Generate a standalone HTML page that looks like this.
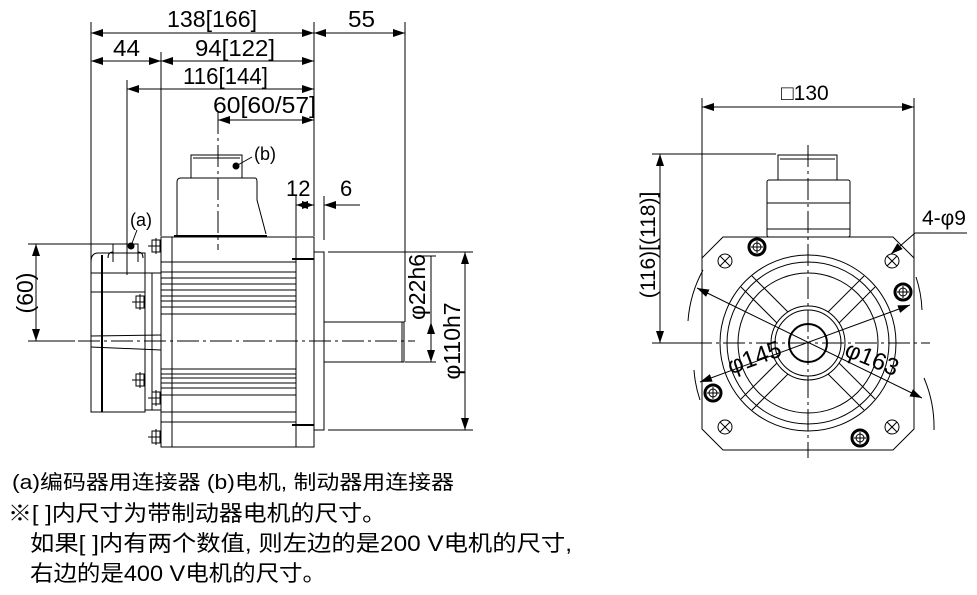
<!DOCTYPE html>
<html><head><meta charset="utf-8"><style>
html,body{margin:0;padding:0;background:#fff}
svg{display:block}
text{font-family:"Liberation Sans","Noto Sans CJK SC",sans-serif;fill:#000}
</style></head><body>
<svg width="977" height="595" viewBox="0 0 977 595" xmlns="http://www.w3.org/2000/svg">
<defs>
<marker id="a" viewBox="0 0 12 8" refX="12" refY="4" markerWidth="12" markerHeight="8" markerUnits="userSpaceOnUse" orient="auto-start-reverse"><path d="M0,0L12,4L0,8z" fill="#000"/></marker>
</defs>
<g stroke="#000" stroke-width="1" fill="none">
<line x1="91" y1="22" x2="91" y2="262"/>
<line x1="161" y1="52" x2="161" y2="236"/>
<line x1="127" y1="80" x2="127" y2="275"/>
<line x1="314" y1="22" x2="314" y2="236"/>
<line x1="405" y1="22" x2="405" y2="322"/>
<line x1="218" y1="112" x2="218" y2="250" stroke-dasharray="22,4,3,4"/>
<line x1="91" y1="33" x2="314" y2="33" marker-start="url(#a)" marker-end="url(#a)"/>
<line x1="314" y1="33" x2="405" y2="33" marker-start="url(#a)" marker-end="url(#a)"/>
<line x1="91" y1="61" x2="161" y2="61" marker-start="url(#a)" marker-end="url(#a)"/>
<line x1="161" y1="61" x2="314" y2="61" marker-start="url(#a)" marker-end="url(#a)"/>
<line x1="127" y1="89" x2="314" y2="89" marker-start="url(#a)" marker-end="url(#a)"/>
<line x1="218" y1="120" x2="314" y2="120" marker-start="url(#a)" marker-end="url(#a)"/>
<line x1="296" y1="196" x2="296" y2="236"/>
<line x1="324" y1="196" x2="324" y2="240"/>
<line x1="296" y1="205" x2="314" y2="205" marker-start="url(#a)" marker-end="url(#a)"/>
<line x1="360" y1="205" x2="324" y2="205" marker-end="url(#a)"/>
<line x1="28" y1="244" x2="125" y2="244"/>
<line x1="28" y1="341" x2="75" y2="341"/>
<line x1="36" y1="244" x2="36" y2="341" marker-start="url(#a)" marker-end="url(#a)"/>
<line x1="78" y1="341" x2="415" y2="341" stroke-dasharray="22,4,3,4"/>
<path d="M91,262 Q91,253 98,253 L145,253 L145,412 L91,412 Z"/>
<line x1="102" y1="255" x2="102" y2="412" stroke-width="2"/>
<line x1="91" y1="273" x2="145" y2="273"/>
<line x1="91" y1="292" x2="145" y2="292"/>
<line x1="91" y1="336" x2="161" y2="335"/>
<line x1="91" y1="347" x2="161" y2="350"/>
<rect x="145" y="273" width="16" height="137"/>
<line x1="152" y1="273" x2="152" y2="410"/>
<rect x="113" y="244" width="25" height="9"/>
<path d="M108,258 Q108,252 113,252 M138,252 Q143,252 143,258"/>
<line x1="113" y1="253" x2="113" y2="262"/><line x1="138" y1="253" x2="138" y2="262"/>
<rect x="161" y="237" width="153" height="210"/>
<line x1="172" y1="237" x2="172" y2="447"/>
<line x1="296" y1="237" x2="296" y2="447"/>
<g>
<line x1="161" y1="262" x2="296" y2="262"/><line x1="161" y1="272" x2="296" y2="272"/>
<line x1="161" y1="278" x2="296" y2="278"/><line x1="161" y1="284" x2="296" y2="284"/>
<line x1="161" y1="290" x2="296" y2="290"/><line x1="161" y1="296" x2="296" y2="296"/>
<line x1="161" y1="301" x2="296" y2="301"/><line x1="161" y1="307" x2="296" y2="307"/>
<line x1="161" y1="314" x2="296" y2="314"/>
<line x1="161" y1="369" x2="296" y2="369"/><line x1="161" y1="374" x2="296" y2="374"/>
<line x1="161" y1="378" x2="296" y2="378"/><line x1="161" y1="383" x2="296" y2="383"/>
<line x1="161" y1="388" x2="296" y2="388"/><line x1="161" y1="395" x2="296" y2="395"/>
<line x1="161" y1="412" x2="296" y2="412"/><line x1="161" y1="422" x2="296" y2="422"/>
</g>
<line x1="292" y1="259" x2="314" y2="259" stroke-width="2"/>
<line x1="292" y1="425" x2="314" y2="425" stroke-width="2"/>
<g>
<rect x="152" y="240" width="8" height="12"/><line x1="148" y1="246" x2="161" y2="246"/><line x1="156" y1="238" x2="156" y2="254"/>
<rect x="136" y="296" width="8" height="12"/><line x1="132" y1="302" x2="145" y2="302"/><line x1="140" y1="294" x2="140" y2="310"/>
<rect x="136" y="374" width="8" height="12"/><line x1="132" y1="380" x2="145" y2="380"/><line x1="140" y1="372" x2="140" y2="388"/>
<rect x="152" y="392" width="8" height="12"/><line x1="148" y1="398" x2="161" y2="398"/><line x1="156" y1="390" x2="156" y2="406"/>
<rect x="152" y="431" width="8" height="12"/><line x1="148" y1="437" x2="161" y2="437"/><line x1="156" y1="429" x2="156" y2="445"/>
</g>
<rect x="191" y="155" width="51" height="23"/>
<line x1="193" y1="158" x2="240" y2="158"/>
<path d="M177,236 L177,182 Q177,178 181,178 L255,178 Q257,178 257,182 L257,200 L266,234"/>
<line x1="174" y1="236" x2="267" y2="236" stroke-width="2"/>
<rect x="314" y="252" width="10" height="178"/>
<line x1="328" y1="252" x2="473" y2="252"/>
<line x1="328" y1="430" x2="473" y2="430"/>
<rect x="324" y="322" width="80" height="40"/>
<line x1="402" y1="322" x2="402" y2="362"/>
<line x1="405" y1="362" x2="436" y2="362"/>
<line x1="418" y1="256" x2="436" y2="256"/>
<line x1="431" y1="256" x2="431" y2="362"/>
<line x1="431" y1="338" x2="431" y2="322" marker-end="url(#a)"/>
<line x1="431" y1="346" x2="431" y2="362" marker-end="url(#a)"/>
<line x1="465" y1="252" x2="465" y2="430" marker-start="url(#a)" marker-end="url(#a)"/>
<line x1="131" y1="246" x2="137" y2="230"/>
<line x1="236" y1="166" x2="252" y2="157"/>
</g>
<circle cx="131" cy="246" r="3.5" fill="#000"/>
<circle cx="236" cy="166" r="3.5" fill="#000"/>
<text x="167" y="27" font-size="23" textLength="90" lengthAdjust="spacingAndGlyphs">138[166]</text>
<text x="348" y="27" font-size="23" textLength="27" lengthAdjust="spacingAndGlyphs">55</text>
<text x="113" y="56" font-size="23" textLength="27" lengthAdjust="spacingAndGlyphs">44</text>
<text x="195" y="56" font-size="23" textLength="80" lengthAdjust="spacingAndGlyphs">94[122]</text>
<text x="183" y="84" font-size="23" textLength="85" lengthAdjust="spacingAndGlyphs">116[144]</text>
<text x="213" y="113" font-size="23" textLength="103" lengthAdjust="spacingAndGlyphs">60[60/57]</text>
<text x="254" y="160" font-size="18">(b)</text>
<text x="130" y="226" font-size="18">(a)</text>
<text x="286" y="196" font-size="22">12</text>
<text x="340" y="196" font-size="22">6</text>
<text transform="translate(33,293) rotate(-90)" font-size="23" text-anchor="middle">(60)</text>
<text transform="translate(425,287) rotate(-90)" font-size="23" text-anchor="middle">φ22h6</text>
<text transform="translate(460,341) rotate(-90)" font-size="23" text-anchor="middle">φ110h7</text>

<g stroke="#000" stroke-width="1" fill="none">
<line x1="702" y1="98" x2="702" y2="260"/>
<line x1="914" y1="98" x2="914" y2="260"/>
<line x1="702" y1="107" x2="914" y2="107" marker-start="url(#a)" marker-end="url(#a)"/>
<line x1="652" y1="154" x2="776" y2="154"/>
<line x1="652" y1="343" x2="700" y2="343"/>
<line x1="660" y1="154" x2="660" y2="343" marker-start="url(#a)" marker-end="url(#a)"/>
<path d="M723,237 L893,237 L914,258 L914,429 L893,450 L723,450 L702,429 L702,258 Z"/>
<rect x="778" y="155" width="59" height="25"/>
<line x1="780" y1="159" x2="835" y2="159"/>
<rect x="767" y="180" width="83" height="57" rx="2"/>
<line x1="767" y1="203" x2="850" y2="203"/>
<line x1="767" y1="229" x2="850" y2="229"/>
<line x1="808" y1="145" x2="808" y2="458" stroke-dasharray="22,4,3,4"/>
<line x1="690" y1="343" x2="930" y2="343" stroke-dasharray="22,4,3,4"/>
<circle cx="808" cy="343" r="88"/>
<circle cx="808" cy="343" r="81"/>
<circle cx="808" cy="343" r="70"/>
<circle cx="808" cy="343" r="37"/>
<circle cx="808" cy="343" r="33"/>
<circle cx="808" cy="343" r="19" stroke-width="2"/>
<g transform="translate(808,343)">
<g id="sp"><line x1="20" y1="-31" x2="56" y2="-67"/><line x1="31" y1="-20" x2="67" y2="-56"/></g>
<use href="#sp" transform="rotate(90)"/><use href="#sp" transform="rotate(180)"/><use href="#sp" transform="rotate(270)"/>
</g>
<g id="hx"><circle cx="725" cy="261" r="7"/><line x1="720" y1="256" x2="730" y2="266"/><line x1="730" y1="256" x2="720" y2="266"/></g>
<use href="#hx" transform="translate(167,0)"/><use href="#hx" transform="translate(0,166)"/><use href="#hx" transform="translate(167,166)"/>
<g id="bh"><circle cx="757" cy="247" r="8" stroke-width="3"/><circle cx="757" cy="247" r="4"/><line x1="751" y1="247" x2="763" y2="247"/><line x1="757" y1="241" x2="757" y2="253"/></g>
<use href="#bh" transform="translate(146,45)"/><use href="#bh" transform="translate(-44,146)"/><use href="#bh" transform="translate(103,191)"/>
<line x1="697" y1="288" x2="922" y2="398" marker-start="url(#a)" marker-end="url(#a)"/>
<line x1="700" y1="382" x2="910" y2="305" marker-start="url(#a)" marker-end="url(#a)"/>
<path d="M688,321 A125,125 0 0 1 703,270"/>
<path d="M916,277 A118,118 0 0 1 922,310"/>
<path d="M694,370 A118,118 0 0 0 700,400"/>
<path d="M924,378 A125,125 0 0 1 934,430"/>
<line x1="967" y1="233" x2="915" y2="233"/>
<line x1="915" y1="233" x2="891" y2="254" marker-end="url(#a)"/>
</g>
<text x="781" y="100" font-size="21">□130</text>
<text x="922" y="225" font-size="21">4-φ9</text>
<text transform="translate(655,245) rotate(-90)" font-size="21" text-anchor="middle">(116)[(118)]</text>
<text transform="translate(757,365) rotate(-20)" font-size="24" text-anchor="middle">φ145</text>
<text transform="translate(869,366) rotate(22)" font-size="24" text-anchor="middle">φ163</text>

<text x="12" y="489" font-size="20" textLength="442" lengthAdjust="spacingAndGlyphs">(a)编码器用连接器 (b)电机, 制动器用连接器</text>
<text x="8" y="521" font-size="22" textLength="378" lengthAdjust="spacingAndGlyphs">※[ ]内尺寸为带制动器电机的尺寸。</text>
<text x="30" y="551" font-size="22" textLength="542" lengthAdjust="spacingAndGlyphs">如果[ ]内有两个数值, 则左边的是200 V电机的尺寸,</text>
<text x="30" y="581" font-size="22" textLength="296" lengthAdjust="spacingAndGlyphs">右边的是400 V电机的尺寸。</text>
</svg>
</body></html>
